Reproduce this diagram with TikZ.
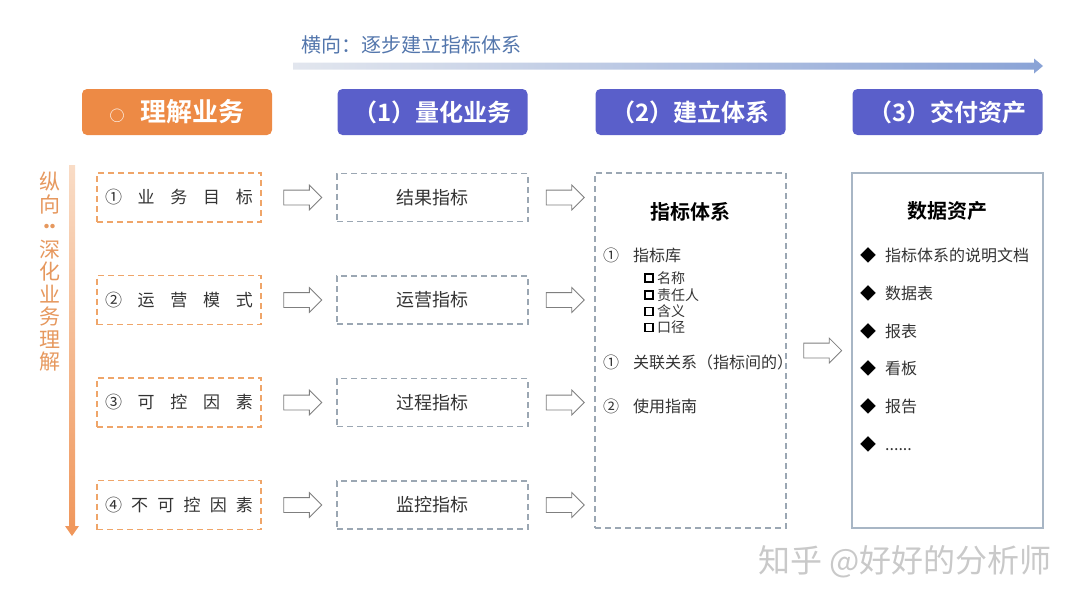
\documentclass[tikz,border=0pt]{standalone}
\usepackage{fontspec}
\setmainfont{Noto Sans CJK SC}[BoldFont={Noto Sans CJK SC Bold}]
\usepackage{xcolor}
\usepackage{tikz}
\usetikzlibrary{arrows.meta}
\usetikzlibrary{calc}
\usetikzlibrary{shapes}
\usetikzlibrary{positioning}
\tikzset{>=latex}

\definecolor{hdorange}{HTML}{ED8A45}
\definecolor{hdblue}{HTML}{5A5FCA}
\definecolor{dashorange}{HTML}{EFA569}
\definecolor{dashgray}{HTML}{9BA7B3}
\definecolor{assetline}{HTML}{A8B6C5}
\definecolor{arrowgray}{HTML}{7F7F7F}
\definecolor{toptext}{HTML}{5376AC}
\definecolor{sidetext}{HTML}{E6985E}
\definecolor{hlight}{HTML}{E2E6EE}
\definecolor{hdark}{HTML}{8AA3D6}
\definecolor{vlight}{HTML}{F9DCC6}
\definecolor{vdark}{HTML}{F0965A}
\definecolor{bodytext}{HTML}{333333}

\newcommand{\fsz}[1]{\fontsize{#1}{#1}\selectfont}
\newcommand{\moredots}{......}

\begin{document}
\begin{tikzpicture}[
        x=1pt, y=-1pt,
        header/.style={rounded corners=5pt, minimum width=190pt, minimum height=46pt, inner sep=0pt, text=white, font=\bfseries\fsz{24}},
        bizbox/.style={draw=dashorange, line width=1.4pt, dash pattern=on 6pt off 4pt, minimum width=164pt, minimum height=49pt, inner sep=0pt, text=bodytext, font=\fsz{17}},
        kpibox/.style={draw=dashgray, line width=1.2pt, dash pattern=on 6pt off 4pt, minimum width=191pt, minimum height=48pt, inner sep=0pt, text=bodytext, font=\fsz{18}},
        hollow/.style={single arrow, draw=arrowgray, line width=0.8pt, fill=white, minimum height=38pt, minimum width=24pt, single arrow head extend=5pt, inner xsep=0pt, inner ysep=7pt},
        panel/.style={minimum width=191pt, minimum height=355pt, inner sep=0pt},
        paneltitle/.style={inner sep=0pt, text=black, font=\bfseries\fsz{20}},
        item/.style={anchor=west, inner sep=0pt, text=bodytext, font=\fsz{16}},
        subitem/.style={anchor=west, inner sep=0pt, text=bodytext, font=\fsz{14}}
    ]
    \useasboundingbox (0,0) rectangle (1080,608);

    %=== Horizontal direction ===%
    \coordinate (hstart) at (293,66);
    \coordinate (hend) at (1043,66);
    \shade[left color=hlight, right color=hdark] ($(hstart)+(0,-3.5)$) -- ($(hend)+(-9,-3.5)$) -- ($(hend)+(-9,-7.5)$) -- (hend) -- ($(hend)+(-9,7.5)$) -- ($(hend)+(-9,3.5)$) -- ($(hstart)+(0,3.5)$) -- cycle;
    \node[anchor=west, inner sep=0pt, text=toptext, font=\fsz{20}] (htext) at (301,45) {横向：逐步建立指标体系};

    %=== Vertical direction ===%
    \coordinate (vstart) at (72,165);
    \coordinate (vend) at (72,536);
    \shade[top color=vlight, bottom color=vdark] ($(vstart)+(-3,0)$) -- ($(vend)+(-3,-10)$) -- ($(vend)+(-7,-10)$) -- (vend) -- ($(vend)+(7,-10)$) -- ($(vend)+(3,-10)$) -- ($(vstart)+(3,0)$) -- cycle;
    \node[inner sep=0pt, align=center, text=sidetext, font=\fontsize{21}{22.5}\selectfont] (vtext) at (50,272) {纵\\向\\\makebox[6pt]{·}\makebox[6pt]{·}\\深\\化\\业\\务\\理\\解};

    %=== Panels ===%
    \node[panel, draw=dashgray, line width=1.2pt, dash pattern=on 6pt off 4pt] (sys) at (690.5,350.5) {};
    \node[panel, draw=assetline, line width=1.3pt] (asset) at (947.5,350.5) {};
    \node[hollow] (cr) at ($(sys.east)!0.5!(asset.west)$) {};

    %=== Rows ===%
    \foreach \i/\y/\biz/\kpi in {
        1/197.5/{①\hfil 业\hfil 务\hfil 目\hfil 标}/结果指标,
        2/300/{②\hfil 运\hfil 营\hfil 模\hfil 式}/运营指标,
        3/402.5/{③\hfil 可\hfil 控\hfil 因\hfil 素}/过程指标,
        4/505/{④\hfil 不\hfil 可\hfil 控\hfil 因\hfil 素}/监控指标}{
        \node[bizbox] (biz\i) at (179,\y) {\makebox[148pt][s]{\biz}};
        \node[kpibox] (kpi\i) at (432.5,\y) {\kpi};
        \node[hollow] (ar\i) at ($(biz\i.east)!0.5!(kpi\i.west)$) {};
        \node[hollow] (br\i) at ($(kpi\i.east)!0.5!(kpi\i.east -| sys.west)$) {};
    }

    %=== Headers ===%
    \node[header, fill=hdorange, font=\bfseries\fsz{26}] (hbiz) at (177,112) {{\mdseries\fsz{15}○}\hspace{16pt}理解业务\hspace{18pt}};
    \node[header, fill=hdblue] (hkpi) at (kpi1 |- hbiz) {（1）量化业务};
    \node[header, fill=hdblue] (hsys) at (sys |- hbiz) {（2）建立体系};
    \node[header, fill=hdblue] (hasset) at (asset |- hbiz) {（3）交付资产};

    %=== Metric system ===%
    \node[paneltitle] (systitle) at ($(sys.north)+(0,39.5)$) {指标体系};
    \node[item] (lib) at (603,255) {①\hspace{14pt}指标库};
    \foreach \j/\y/\t in {1/278/名称, 2/295/责任人, 3/311.5/含义, 4/327.5/口径}{
        \draw[line width=1.7pt, black] (645,{\y-4}) rectangle ++(8,8);
        \node[subitem] (sub\j) at (657,\y) {\t};
    }
    \node[item] (rel) at (603,362) {①\hspace{14pt}关联关系（指标间的）};
    \node[item] (guide) at (603,406) {②\hspace{14pt}使用指南};

    %=== Data assets ===%
    \node[paneltitle] (assettitle) at ($(asset.north)+(0,39)$) {数据资产};
    \foreach \j/\y/\t in {1/255/指标体系的说明文档, 2/293/数据表, 3/331/报表, 4/368/看板, 5/406/报告, 6/444/\moredots}{
        \node[item] (asset\j) at (860,\y) {{\color{black}◆}\hspace{9pt}\t};
    }

    % watermark
    \node[inner sep=0pt, text=gray!42, font=\fsz{32}] (mark) at (905,562) {知乎 @好好的分析师};
\end{tikzpicture}
\end{document}
